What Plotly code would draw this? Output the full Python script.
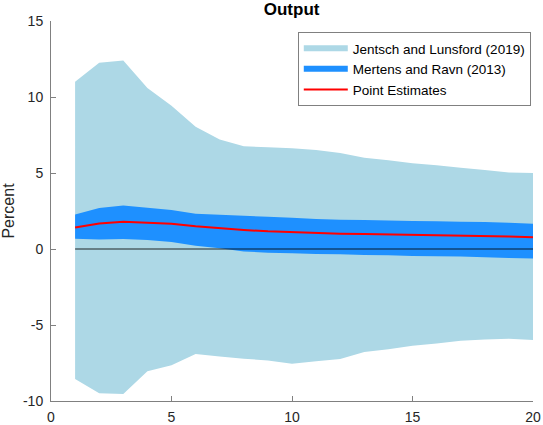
import plotly.graph_objects as go

horizon = list(range(1, 21))
jl_upper = [11.0, 12.25, 12.4, 10.6, 9.43, 8.05, 7.2, 6.76, 6.7, 6.63, 6.52, 6.32, 6.0, 5.84, 5.64, 5.51, 5.34, 5.2, 5.03, 5.0]
jl_lower = [-8.55, -9.49, -9.54, -8.05, -7.65, -6.91, -7.07, -7.22, -7.33, -7.55, -7.39, -7.24, -6.78, -6.6, -6.37, -6.21, -6.04, -5.95, -5.9, -5.99]
mr_upper = [2.27, 2.69, 2.87, 2.71, 2.56, 2.32, 2.25, 2.19, 2.12, 2.06, 1.97, 1.93, 1.9, 1.88, 1.84, 1.82, 1.8, 1.77, 1.73, 1.66]
mr_lower = [0.68, 0.63, 0.66, 0.59, 0.46, 0.22, 0.05, -0.17, -0.24, -0.28, -0.33, -0.35, -0.39, -0.41, -0.46, -0.48, -0.5, -0.55, -0.59, -0.63]
point_est = [1.42, 1.68, 1.79, 1.73, 1.66, 1.49, 1.36, 1.25, 1.16, 1.09, 1.05, 1.0, 0.98, 0.96, 0.94, 0.92, 0.9, 0.85, 0.83, 0.77]
zero_line = [0.0] * len(horizon)

x_ticks = [0, 5, 10, 15, 20]
y_ticks = [-10, -5, 0, 5, 10, 15]

FONT = "Liberation Sans, Arial, Helvetica, sans-serif"

fig = go.Figure()
fig.add_trace(go.Scatter(
    x=horizon + horizon[::-1], y=jl_upper + jl_lower[::-1],
    fill="toself", fillcolor="#ADD8E6", mode="none",
    name="Jentsch and Lunsford (2019)", hoverinfo="skip"))
fig.add_trace(go.Scatter(
    x=horizon + horizon[::-1], y=mr_upper + mr_lower[::-1],
    fill="toself", fillcolor="#1E90FF", mode="none",
    name="Mertens and Ravn (2013)", hoverinfo="skip"))
fig.add_trace(go.Scatter(
    x=horizon, y=zero_line, mode="lines",
    line=dict(color="rgba(0,0,0,0.55)", width=1.5), showlegend=False))
fig.add_trace(go.Scatter(
    x=horizon, y=point_est, mode="lines",
    line=dict(color="#FF0000", width=2), name="Point Estimates"))

fig.update_layout(
    width=543, height=425,
    margin=dict(l=51, r=10, t=21, b=24, autoexpand=False),
    paper_bgcolor="white", plot_bgcolor="white",
    font=dict(family=FONT, size=14, color="#262626"),
    title=dict(text="<b>Output</b>", x=0.537, xanchor="center", y=0.978, yanchor="middle",
               font=dict(family=FONT, size=17, color="black"), automargin=False),
    legend=dict(
        x=0.512, xanchor="left", y=0.971, yanchor="top",
        bgcolor="white", bordercolor="#808080", borderwidth=1,
        font=dict(family=FONT, size=13.5, color="black"),
        itemwidth=44, tracegroupgap=0,
    ),
    showlegend=True,
)
fig.update_xaxes(
    range=[0, 20], tickvals=x_ticks, ticktext=[str(v) for v in x_ticks],
    showline=True, linecolor="#808080", linewidth=1,
    ticks="inside", ticklen=5, tickcolor="#808080",
    showgrid=False, zeroline=False, mirror=False, automargin=False,
    tickfont=dict(size=14, color="#262626"), ticklabelstandoff=3,
)
fig.update_yaxes(
    range=[-10, 15], tickvals=y_ticks, ticktext=[str(v) for v in y_ticks],
    showline=True, linecolor="#808080", linewidth=1,
    ticks="inside", ticklen=5, tickcolor="#808080",
    showgrid=False, zeroline=False, mirror=False, automargin=False,
    title=dict(text="Percent", font=dict(size=16, color="#262626"), standoff=4),
    tickfont=dict(size=14, color="#262626"), ticklabelstandoff=4,
)

fig.write_html("out.html", config={"displayModeBar": False},
               post_script="document.body.style.margin='0';")
